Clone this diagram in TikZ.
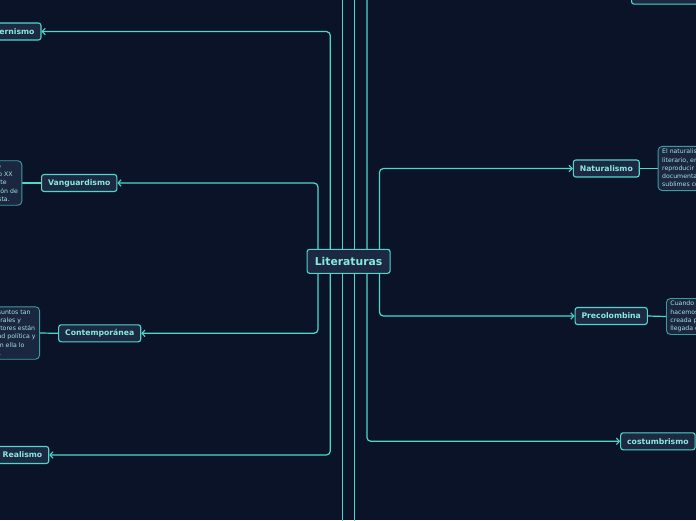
\documentclass[tikz,border=0pt]{standalone}
\usepackage{fontspec}
\setmainfont{DejaVu Sans}
\usetikzlibrary{arrows.meta,backgrounds,calc}
\definecolor{bgc}{HTML}{0B1329}
\definecolor{edge}{HTML}{4FD8C9}
\definecolor{nodefill}{HTML}{1D2943}
\definecolor{lbl}{HTML}{86EBDF}
\definecolor{notefill}{HTML}{1B2640}
\definecolor{noteedge}{HTML}{3E9E9A}
\definecolor{notetxt}{HTML}{A8E4DE}
\begin{document}
\begin{tikzpicture}[x=1pt,y=-1pt,
  topic/.style={draw=edge, line width=1.1pt, fill=nodefill, rounded corners=2.5pt, text=lbl,
    font=\bfseries\fontsize{7.7}{9}\selectfont, minimum height=17pt, inner xsep=6.5pt, inner ysep=0pt},
  central/.style={topic, font=\bfseries\fontsize{10.8}{12}\selectfont, minimum width=83pt, minimum height=24pt},
  note/.style={draw=noteedge, line width=0.9pt, fill=notefill, rounded corners=4pt, text=notetxt,
    font=\fontsize{6.2}{8.2}\selectfont, align=left, inner xsep=4pt, inner ysep=2.7pt},
  conn/.style={draw=edge, line width=1.2pt, rounded corners=4pt},
  tip/.style={-{Straight Barb[length=3pt,width=6.5pt,line width=1.1pt]}},
]
\useasboundingbox (0,0) rectangle (696,520);
\clip (0,0) rectangle (696,520);

% central topic
\node[central] (L) at (348.6,261.3) {Literaturas};

% left branches
\node[topic, anchor=east] (mod) at (41.5,31.5) {Modernismo};
\node[topic] (van) at (79.2,183) {Vanguardismo};
\node[topic] (con) at (99.7,333.3) {Contemporánea};
\node[topic, anchor=east] (rea) at (49.3,455) {Realismo};

% right branches
\node[topic] (nat) at (606.3,168.5) {Naturalismo};
\node[topic] (pre) at (611.2,316) {Precolombina};
\node[topic] (cos) at (657.9,441.3) {costumbrismo};
\node[topic, anchor=south west, minimum width=80pt] (top) at (631,4.7) {};

% notes
\node[note, anchor=east] (vnote) at (22.3,183) {Corriente artística que rompió con todo lo\\
establecido, surgida a comienzos del siglo XX\\
que proponía la libertad creadora en el arte\\
y la literatura, mediante la experimentación de\\
nuevas formas de expresión libre del artista.};

\node[note, anchor=east] (cnote) at (40,333) {Se caracteriza por abordar asuntos tan\\
diversos como sociales, culturales y\\
existenciales, donde los escritores están\\
comprometidos con la realidad política y\\
social de su época; reflejan en ella lo\\
que acontecía a su alrededor.};

\node[note, anchor=west] (nnote) at (657.7,168.5) {El naturalismo es un movimiento\\
literario, en el que se pretende\\
reproducir la realidad con objetividad\\
documental en todos sus aspectos, tanto los\\
sublimes como los más vulgares.};

\node[note, anchor=west] (pnote) at (666,316.5) {Cuando hablamos de literatura precolombina\\
hacemos referencia a toda la literatura\\
creada por los pueblos americanos antes de la\\
llegada de los españoles.};

% off-canvas ends of the long vertical connectors
\coordinate (up1) at (342.6,-30);
\coordinate (dn1) at (342.6,550);
\coordinate (up2) at (354.6,-30);
\coordinate (dn2) at (354.6,550);
\coordinate (up3) at (366.9,-30);

\begin{scope}[on background layer]
\fill[bgc] (0,0) rectangle (696,520);
\draw[conn,tip] ($(L.center)+(-18.3,0)$) |- (mod.east);
\draw[conn,tip] ($(L.center)+(-30.6,0)$) |- (van.east);
\draw[conn,tip] ($(L.center)+(-30.6,0)$) |- (con.east);
\draw[conn,tip] ($(L.center)+(-18.3,0)$) |- (rea.east);
\draw[conn,tip] ($(L.center)+(30.8,0)$) |- (nat.west);
\draw[conn,tip] ($(L.center)+(30.8,0)$) |- (pre.west);
\draw[conn,tip] ($(L.center)+(18.3,0)$) |- (cos.west);
\draw[conn] ($(L.center)+(18.3,0)$) -- (up3);
\draw[conn] ($(L.center)+(-6,0)$) -- (up1);
\draw[conn] ($(L.center)+(-6,0)$) -- (dn1);
\draw[conn] ($(L.center)+(6,0)$) -- (up2);
\draw[conn] ($(L.center)+(6,0)$) -- (dn2);
\draw[conn] (van.west) -- (vnote.east);
\draw[conn] (con.west) -- (cnote.east);
\draw[conn] (nat.east) -- (nnote.west);
\draw[conn] (pre.east) -- (pnote.west);
\end{scope}
\end{tikzpicture}
\end{document}
